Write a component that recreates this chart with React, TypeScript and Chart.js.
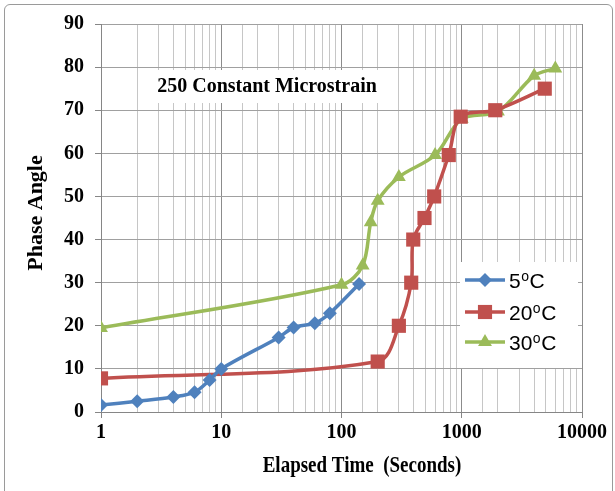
import React, { useEffect, useRef } from 'react';
import { Chart, registerables } from 'chart.js';

Chart.register(...registerables);

// ---- data ----
const seriesNames = ['5', '20', '30'];
const time5C = [1, 2, 4, 6, 8, 10, 30, 40, 60, 80, 140];
const angle5C = [1.6, 2.5, 3.5, 4.6, 7.4, 10, 17.3, 19.6, 20.6, 22.9, 29.7];
const time20C = [1, 200, 300, 380, 395, 490, 590, 780, 980, 1900, 4900];
const angle20C = [7.8, 11.7, 20, 30, 40, 45, 50, 59.6, 68.5, 70, 75];
const time30C = [1, 100, 150, 175, 200, 300, 600, 1000, 2000, 4000, 6000];
const angle30C = [19.5, 29.5, 34, 44, 49, 54.5, 59.6, 68, 69.7, 78, 79.7];
const xTickLabels = [1, 10, 100, 1000, 10000];
const yMin = 0;
const yMax = 90;
const yStep = 10;
const xTitle = 'Elapsed Time  (Seconds)';
const yTitle = 'Phase Angle';
const noteText = '250 Constant Microstrain';

const BLUE = '#4F81BD';
const RED = '#C0504D';
const GREEN = '#9BBB59';
const SERIF = '"Liberation Serif", "Times New Roman", serif';
const SANS = '"Liberation Sans", Arial, sans-serif';

const toPoints = (xs: number[], ys: number[]) => xs.map((x, i) => ({ x, y: ys[i] }));

const isDecade = (v: number) => {
  const l = Math.log10(v);
  return Math.abs(l - Math.round(l)) < 1e-9;
};

function drawMarker(ctx: CanvasRenderingContext2D, shape: string, x: number, y: number, r: number, color: string) {
  ctx.save();
  ctx.fillStyle = color;
  ctx.strokeStyle = color;
  ctx.beginPath();
  if (shape === 'rectRot') {
    ctx.moveTo(x - r, y);
    ctx.lineTo(x, y - r);
    ctx.lineTo(x + r, y);
    ctx.lineTo(x, y + r);
  } else if (shape === 'rect') {
    const s = r * Math.SQRT1_2;
    ctx.rect(x - s, y - s, 2 * s, 2 * s);
  } else {
    ctx.moveTo(x, y - r);
    ctx.lineTo(x + 0.866 * r, y + 0.5 * r);
    ctx.lineTo(x - 0.866 * r, y + 0.5 * r);
  }
  ctx.closePath();
  ctx.fill();
  ctx.restore();
}

const decorPlugin = {
  id: 'decor',
  beforeDatasetsDraw(chart: any) {
    const ctx: CanvasRenderingContext2D = chart.ctx;
    // annotation box
    ctx.save();
    ctx.fillStyle = '#ffffff';
    ctx.fillRect(146, 70, 238, 33);
    ctx.fillStyle = '#000000';
    ctx.font = `bold 20px ${SERIF}`;
    ctx.textAlign = 'center';
    ctx.textBaseline = 'middle';
    ctx.translate(267, 86);
    ctx.scale(1, 1.1);
    ctx.fillText(noteText, 0, 0);
    ctx.restore();
  },
  afterDatasetsDraw(chart: any) {
    const ctx: CanvasRenderingContext2D = chart.ctx;
    // legend
    ctx.save();
    ctx.fillStyle = '#ffffff';
    ctx.fillRect(460, 262, 118, 106);
    const rows = [
      { name: seriesNames[0], color: BLUE, shape: 'rectRot', r: 7, y: 280 },
      { name: seriesNames[1], color: RED, shape: 'rect', r: 10, y: 312 },
      { name: seriesNames[2], color: GREEN, shape: 'triangle', r: 8, y: 342 },
    ];
    rows.forEach((row) => {
      ctx.strokeStyle = row.color;
      ctx.lineWidth = 3.5;
      ctx.beginPath();
      ctx.moveTo(465, row.y);
      ctx.lineTo(505, row.y);
      ctx.stroke();
      drawMarker(ctx, row.shape, 485, row.y, row.r, row.color);
      ctx.fillStyle = '#000000';
      ctx.textBaseline = 'alphabetic';
      ctx.textAlign = 'left';
      ctx.font = `21px ${SANS}`;
      let x = 509;
      const base = row.y + 8;
      ctx.fillText(row.name, x, base);
      x += ctx.measureText(row.name).width;
      ctx.font = `14px ${SANS}`;
      ctx.fillText('o', x + 0.5, base - 7);
      x += ctx.measureText('o').width + 1;
      ctx.font = `21px ${SANS}`;
      ctx.fillText('C', x, base);
    });
    ctx.restore();

    // axis titles
    ctx.save();
    ctx.fillStyle = '#000000';
    ctx.font = `bold 19px ${SERIF}`;
    ctx.textAlign = 'center';
    ctx.textBaseline = 'middle';
    ctx.translate(362, 466);
    ctx.scale(1, 1.2);
    ctx.fillText(xTitle, 0, 0);
    ctx.restore();

    ctx.save();
    ctx.fillStyle = '#000000';
    ctx.font = `bold 20px ${SERIF}`;
    ctx.textAlign = 'center';
    ctx.textBaseline = 'middle';
    ctx.translate(37, 213);
    ctx.rotate(-Math.PI / 2);
    ctx.scale(1.1, 1);
    ctx.fillText(yTitle, 0, 0);
    ctx.restore();
  },
};

export default function App() {
  const canvasRef = useRef<HTMLCanvasElement | null>(null);

  useEffect(() => {
    document.body.style.margin = '0';
    const canvas = canvasRef.current;
    if (!canvas) return;
    const mk = (label: string, xs: number[], ys: number[], color: string, style: any, r: number) => ({
      label,
      data: toPoints(xs, ys),
      borderColor: color,
      backgroundColor: color,
      borderWidth: 3.5,
      pointStyle: style,
      pointRadius: r,
      pointBorderWidth: 0,
      pointBackgroundColor: color,
      tension: 0.33,
      fill: false,
    });
    const chart = new Chart(canvas, {
      type: 'line',
      data: {
        datasets: [
          mk('5°C', time5C, angle5C, BLUE, 'rectRot', 7),
          mk('20°C', time20C, angle20C, RED, 'rect', 10),
          mk('30°C', time30C, angle30C, GREEN, 'triangle', 8),
        ],
      },
      options: {
        animation: false,
        responsive: false,
        maintainAspectRatio: false,
        devicePixelRatio: 1,
        layout: { padding: { left: 0, top: 24, right: 33, bottom: 0 } },
        plugins: {
          legend: { display: false },
          tooltip: { enabled: false },
          title: { display: false },
        },
        scales: {
          x: {
            type: 'logarithmic',
            min: 1,
            max: 10000,
            afterFit: (s: any) => { s.height = 79; },
            border: { color: '#868686', width: 1 },
            grid: {
              color: (c: any) => (c.tick && isDecade(c.tick.value) ? '#8c8c8c' : '#c6c6c6'),
              tickColor: (c: any) => (c.tick && isDecade(c.tick.value) ? '#868686' : 'rgba(0,0,0,0)'),
              tickLength: 6,
              lineWidth: 1,
            },
            ticks: {
              autoSkip: false,
              maxRotation: 0,
              padding: 3,
              color: '#000000',
              font: { family: SERIF, size: 20, weight: 'bold' },
              callback: (v: any) => (xTickLabels.includes(Number(v)) ? String(v) : ''),
            },
          },
          y: {
            min: yMin,
            max: yMax,
            afterFit: (s: any) => { s.width = 101; },
            border: { color: '#868686', width: 1 },
            grid: { color: '#a0a0a0', tickColor: '#868686', tickLength: 6, lineWidth: 1 },
            ticks: {
              stepSize: yStep,
              padding: 11,
              color: '#000000',
              font: { family: SERIF, size: 20, weight: 'bold' },
            },
          },
        },
      },
      plugins: [decorPlugin],
    } as any);
    return () => chart.destroy();
  }, []);

  return (
    <div style={{ position: 'absolute', left: 0, top: 0, width: 615, height: 491, background: '#fff', overflow: 'hidden' }}>
      <canvas ref={canvasRef} width={615} height={491} style={{ display: 'block', width: 615, height: 491 }} />
      <div
        style={{
          position: 'absolute',
          left: 4,
          top: 4,
          width: 607,
          height: 520,
          border: '1px solid #9a9a9a',
          borderRadius: 6,
          pointerEvents: 'none',
        }}
      />
    </div>
  );
}
